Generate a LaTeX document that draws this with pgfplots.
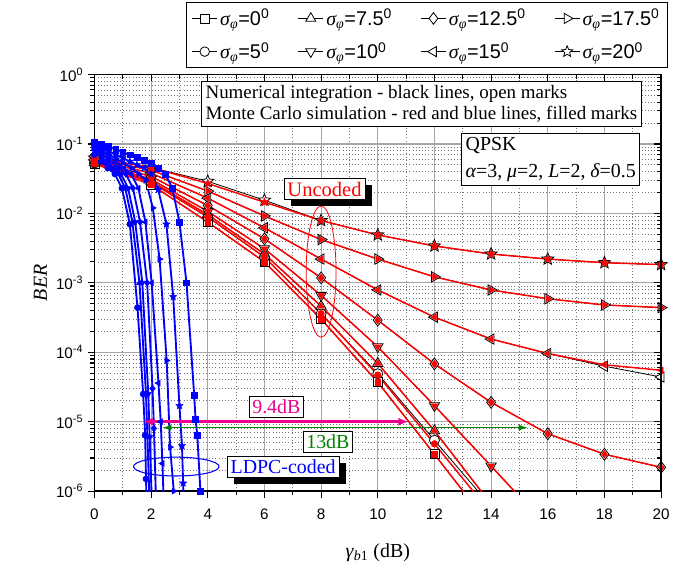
\documentclass[border=0pt]{standalone}
\usepackage{fontspec}
\setmainfont{Liberation Serif}
\setsansfont{Liberation Sans}
\usepackage{pgfplots}
\pgfplotsset{compat=1.18}
\usepackage{pgfplotstable}
\usetikzlibrary{arrows.meta,calc,shadows,plotmarks}

\newcommand{\sg}{{\rmfamily\itshape σ}\textsubscript{\rmfamily\itshape φ}}

\pgfdeclareplotmark{fivestar}{%
  \pgfpathmoveto{\pgfpointpolar{90}{\pgfplotmarksize}}%
  \pgfpathlineto{\pgfpointpolar{126}{0.45\pgfplotmarksize}}%
  \pgfpathlineto{\pgfpointpolar{162}{\pgfplotmarksize}}%
  \pgfpathlineto{\pgfpointpolar{198}{0.45\pgfplotmarksize}}%
  \pgfpathlineto{\pgfpointpolar{234}{\pgfplotmarksize}}%
  \pgfpathlineto{\pgfpointpolar{270}{0.45\pgfplotmarksize}}%
  \pgfpathlineto{\pgfpointpolar{306}{\pgfplotmarksize}}%
  \pgfpathlineto{\pgfpointpolar{342}{0.45\pgfplotmarksize}}%
  \pgfpathlineto{\pgfpointpolar{18}{\pgfplotmarksize}}%
  \pgfpathlineto{\pgfpointpolar{54}{0.45\pgfplotmarksize}}%
  \pgfpathclose
  \pgfusepathqfillstroke
}

\pgfplotstableread{
x num mc
0 5.2e-2 5.2e-2
2 2.6e-2 2.6e-2
4 7.5e-3 7.5e-3
6 2.0e-3 2.0e-3
8 3.0e-4 3.0e-4
10 3.7e-5 3.7e-5
12 3.4e-6 3.4e-6
14 3.0e-7 3.0e-7
}\tsq
\pgfplotstableread{
x num mc
0 5.3e-2 5.3e-2
2 2.8e-2 2.8e-2
4 8.9e-3 8.9e-3
6 2.35e-3 2.35e-3
8 3.6e-4 3.6e-4
10 4.9e-5 4.7e-5
12 5.4e-6 4.8e-6
14 6.0e-7 4.8e-7
}\tci
\pgfplotstableread{
x num mc
0 5.4e-2 5.4e-2
2 2.9e-2 2.9e-2
4 9.6e-3 9.6e-3
6 2.6e-3 2.6e-3
8 4.6e-4 4.6e-4
10 6.9e-5 6.9e-5
12 7.4e-6 7.4e-6
14 6.5e-7 6.5e-7
}\tup
\pgfplotstableread{
x num mc
0 5.5e-2 5.5e-2
2 3.1e-2 3.1e-2
4 1.07e-2 1.07e-2
6 3.1e-3 3.1e-3
8 6.6e-4 6.6e-4
10 1.2e-4 1.2e-4
12 1.7e-5 1.7e-5
14 2.3e-6 2.3e-6
16 3.0e-7 3.0e-7
}\tdn
\pgfplotstableread{
x num mc
0 5.7e-2 5.7e-2
2 3.4e-2 3.4e-2
4 1.3e-2 1.3e-2
6 4.3e-3 4.3e-3
8 1.18e-3 1.18e-3
10 2.9e-4 2.9e-4
12 6.8e-5 6.8e-5
14 1.9e-5 1.9e-5
16 6.7e-6 6.7e-6
18 3.4e-6 3.4e-6
20 2.2e-6 2.2e-6
}\tdi
\pgfplotstableread{
x num mc
0 5.9e-2 5.9e-2
2 3.8e-2 3.8e-2
4 1.66e-2 1.66e-2
6 6.2e-3 6.2e-3
8 2.2e-3 2.2e-3
10 7.9e-4 7.9e-4
12 3.2e-4 3.2e-4
14 1.55e-4 1.55e-4
16 9.6e-5 9.6e-5
18 6.3e-5 6.6e-5
20 4.4e-5 5.5e-5
}\tle
\pgfplotstableread{
x num mc
0 6.1e-2 6.1e-2
2 4.2e-2 4.2e-2
4 2.1e-2 2.1e-2
6 9.2e-3 9.2e-3
8 4.2e-3 4.2e-3
10 2.2e-3 2.2e-3
12 1.22e-3 1.22e-3
14 7.9e-4 7.9e-4
16 5.9e-4 5.9e-4
18 4.8e-4 4.8e-4
20 4.4e-4 4.4e-4
}\tri
\pgfplotstableread{
x num mc
0 6.3e-2 6.3e-2
2 4.6e-2 4.6e-2
4 2.9e-2 2.7e-2
6 1.55e-2 1.45e-2
8 7.9e-3 7.9e-3
10 4.9e-3 4.9e-3
12 3.4e-3 3.4e-3
14 2.6e-3 2.6e-3
16 2.2e-3 2.2e-3
18 1.95e-3 1.95e-3
20 1.83e-3 1.83e-3
}\tst

\pgfplotsset{
  num/.style={black, line width=0.6pt, mark options={solid, fill=white, draw=black, line width=0.6pt}},
  mc/.style={red, line width=1.1pt, mark options={solid, fill=red, draw=red, line width=0.4pt}},
  ldpc/.style={blue, line width=1.4pt, mark size=2.2pt, mark options={solid, fill=blue, draw=blue, line width=0.4pt}},
  msq/.style={mark=square*},
  mci/.style={mark=*},
  mup/.style={mark=triangle*},
  mdn/.style={mark=triangle*, every mark/.append style={rotate=180}},
  mdi/.style={mark=diamond*},
  mle/.style={mark=triangle*, every mark/.append style={rotate=90}},
  mri/.style={mark=triangle*, every mark/.append style={rotate=-90}},
  mst/.style={mark=fivestar},
}

\begin{document}
\begin{tikzpicture}
\begin{axis}[
  name=ax,
  scale only axis, width=427.5pt, height=314.25pt,
  xmin=0, xmax=20, ymin=1e-6, ymax=1, ymode=log,
  xtick={0,2,...,20}, xticklabels={0,2,4,6,8,10,12,14,16,18,20},
  minor x tick num=1,
  ytick={1e-6,1e-5,1e-4,1e-3,1e-2,1e-1,1},
  yticklabels={10\textsuperscript{-6},10\textsuperscript{-5},10\textsuperscript{-4},10\textsuperscript{-3},10\textsuperscript{-2},10\textsuperscript{-1},10\textsuperscript{0}},
  minor ytick={2e-6,3e-6,4e-6,5e-6,6e-6,7e-6,8e-6,9e-6,
               2e-5,3e-5,4e-5,5e-5,6e-5,7e-5,8e-5,9e-5,
               2e-4,3e-4,4e-4,5e-4,6e-4,7e-4,8e-4,9e-4,
               2e-3,3e-3,4e-3,5e-3,6e-3,7e-3,8e-3,9e-3,
               2e-2,3e-2,4e-2,5e-2,6e-2,7e-2,8e-2,9e-2,
               2e-1,3e-1,4e-1,5e-1,6e-1,7e-1,8e-1,9e-1},
  ticklabel style={font=\fontsize{11.5}{13}\sffamily},
  xticklabel style={yshift=-5pt},
  grid=both,
  major grid style={draw=black!35, line width=0.9pt},
  minor grid style={draw=black!55, dotted, line width=0.6pt},
  tick align=outside, xtick pos=bottom, ytick pos=left,
  major tick length=5pt, minor tick length=3pt,
  tick style={black, line width=0.8pt},
  axis line style={line width=1pt},
  xlabel={\textit{γ}\textsubscript{\textit{b}1} (dB)},
  ylabel={\textit{BER}},
  xlabel style={yshift=-11pt},
  label style={font=\fontsize{15}{17}\selectfont},
  legend columns=4,
  legend cell align=left,
  legend style={at={(1.012,1.174)}, anchor=north east, draw=black, line width=0.6pt,
    font=\fontsize{15}{18}\sffamily, inner xsep=4pt, inner ysep=3pt, row sep=7pt,
    /tikz/every even column/.append style={column sep=19.5pt}},
  legend image code/.code={\draw[mark repeat=2,mark phase=2] plot coordinates {(0cm,0cm) (0.33cm,0cm) (0.66cm,0cm)};},
]
% legend
\addlegendimage{num, msq, mark size=3.4pt}
\addlegendentry{\sg=0\textsuperscript{0}}
\addlegendimage{num, mup, mark size=4.4pt}
\addlegendentry{\sg=7.5\textsuperscript{0}}
\addlegendimage{num, mdi, mark size=4.4pt}
\addlegendentry{\sg=12.5\textsuperscript{0}}
\addlegendimage{num, mri, mark size=4.4pt}
\addlegendentry{\sg=17.5\textsuperscript{0}}
\addlegendimage{num, mci, mark size=3.6pt}
\addlegendentry{\sg=5\textsuperscript{0}}
\addlegendimage{num, mdn, mark size=4.4pt}
\addlegendentry{\sg=10\textsuperscript{0}}
\addlegendimage{num, mle, mark size=4.4pt}
\addlegendentry{\sg=15\textsuperscript{0}}
\addlegendimage{num, mst, mark size=4.4pt}
\addlegendentry{\sg=20\textsuperscript{0}}

% numerical (black, open marks)
\addplot[num, msq, mark size=3.4pt, forget plot] table[x=x,y=num] {\tsq};
\addplot[num, mci, mark size=3.8pt, forget plot] table[x=x,y=num] {\tci};
\addplot[num, mup, mark size=4.5pt, forget plot] table[x=x,y=num] {\tup};
\addplot[num, mdn, mark size=4.5pt, forget plot] table[x=x,y=num] {\tdn};
\addplot[num, mdi, mark size=4.5pt, forget plot] table[x=x,y=num] {\tdi};
\addplot[num, mle, mark size=4.5pt, forget plot] table[x=x,y=num] {\tle};
\addplot[num, mri, mark size=4.5pt, forget plot] table[x=x,y=num] {\tri};
\addplot[num, mst, mark size=4.8pt, forget plot] table[x=x,y=num] {\tst};
% Monte Carlo (red, filled marks)
\addplot[mc, msq, mark size=2.2pt, forget plot] table[x=x,y=mc] {\tsq};
\addplot[mc, mci, mark size=2.5pt, forget plot] table[x=x,y=mc] {\tci};
\addplot[mc, mup, mark size=2.9pt, forget plot] table[x=x,y=mc] {\tup};
\addplot[mc, mdn, mark size=2.9pt, forget plot] table[x=x,y=mc] {\tdn};
\addplot[mc, mdi, mark size=2.9pt, forget plot] table[x=x,y=mc] {\tdi};
\addplot[mc, mle, mark size=2.9pt, forget plot] table[x=x,y=mc] {\tle};
\addplot[mc, mri, mark size=2.9pt, forget plot] table[x=x,y=mc] {\tri};
\addplot[mc, mst, mark size=3.2pt, forget plot] table[x=x,y=mc] {\tst};

% LDPC-coded (blue)
\addplot[ldpc, msq, forget plot] coordinates {(0,0.105) (0.25,0.1) (0.5,0.092) (0.75,0.085) (1,0.076) (1.25,0.07) (1.5,0.064) (1.75,0.058) (2,0.053) (2.25,0.045) (2.5,0.037) (2.75,0.023) (3,7.5e-3) (3.25,1e-3) (3.52,2.4e-5) (3.57,1.07e-5) (3.63,6.4e-6) (3.74,1e-6) (3.8,3e-7)};
\addplot[ldpc, mst, mark size=2.8pt, forget plot] coordinates {(0,0.1) (0.25,0.089) (0.5,0.079) (0.75,0.071) (1,0.063) (1.25,0.056) (1.5,0.05) (1.75,0.045) (2,0.037) (2.25,0.022) (2.54,7e-3) (2.78,6.3e-4) (3,1.7e-5) (3.09,4.5e-6) (3.13,1.3e-6) (3.17,4e-7)};
\addplot[ldpc, mri, mark size=2.6pt, forget plot] coordinates {(0,0.095) (0.25,0.082) (0.5,0.071) (0.75,0.062) (1,0.054) (1.31,0.045) (1.56,0.037) (1.81,0.03) (2.06,1.2e-2) (2.3,2.2e-3) (2.55,7.6e-5) (2.67,4.3e-6) (2.8,1e-6) (2.85,5e-7)};
\addplot[ldpc, mle, mark size=2.6pt, forget plot] coordinates {(0,0.09) (0.25,0.077) (0.5,0.066) (0.75,0.056) (1.05,0.045) (1.3,0.037) (1.55,0.023) (1.8,7.5e-3) (2.02,1e-3) (2.26,3.6e-5) (2.34,1e-5) (2.4,2.5e-6) (2.44,8e-7)};
\addplot[ldpc, mdi, mark size=2.6pt, forget plot] coordinates {(0,0.085) (0.25,0.071) (0.5,0.059) (0.86,0.045) (1.11,0.037) (1.36,0.023) (1.61,7.5e-3) (1.86,1e-3) (2.05,3e-5) (2.1,8e-6) (2.17,8e-7)};
\addplot[ldpc, mdn, mark size=2.6pt, forget plot] coordinates {(0,0.08) (0.25,0.065) (0.5,0.053) (0.69,0.045) (0.94,0.037) (1.19,0.023) (1.44,7.5e-3) (1.69,1e-3) (1.9,2.5e-5) (1.95,6e-6) (2.02,8e-7)};
\addplot[ldpc, mup, mark size=2.6pt, forget plot] coordinates {(0,0.075) (0.25,0.06) (0.59,0.045) (0.84,0.037) (1.09,0.023) (1.34,7.5e-3) (1.59,1e-3) (1.82,2.5e-5) (1.87,6e-6) (1.94,8e-7)};
\addplot[ldpc, mci, mark size=2.3pt, forget plot] coordinates {(0,0.07) (0.25,0.056) (0.47,0.045) (0.72,0.037) (0.97,0.023) (1.25,7e-3) (1.52,4.4e-4) (1.72,2.5e-5) (1.79,6.4e-6) (1.82,1.5e-6) (1.85,5e-7)};

% annotations
\draw[red, line width=0.6pt] (rel axis cs:0.4,0.527) ellipse [x radius=11.25pt, y radius=49.5pt];
\draw[blue, line width=0.8pt] (rel axis cs:0.1444,0.0589) ellipse [x radius=32.25pt, y radius=7.1pt];
\draw[magenta, line width=1.8pt, {Latex[length=8pt,width=6pt]}-{Latex[length=8pt,width=6pt]}] (axis cs:1.7,1e-5) -- (axis cs:11.1,1e-5);
\draw[black!50!green, line width=0.9pt, {Latex[length=7pt,width=4.5pt]}-{Latex[length=7pt,width=4.5pt]}] (axis cs:2.39,8.2e-6) -- (axis cs:15.3,8.2e-6);

\node[draw=black, fill=white, line width=0.6pt, align=left, inner sep=3pt,
  font=\fontsize{14.3}{16.5}\selectfont] at (rel axis cs:0.577,0.9296)
  {Numerical integration - black lines, open marks\\Monte Carlo simulation - red and blue lines, filled marks};
\node[draw=black, fill=white, line width=0.6pt, align=left, inner sep=3pt, anchor=north east,
  font=\fontsize{15}{20}\selectfont] at (rel axis cs:0.963,0.859)
  {QPSK\\{\itshape α}=3, {\itshape μ}=2, {\itshape L}=2, {\itshape δ}=0.5};
\node[draw=black, fill=white, line width=0.6pt, text=red, inner sep=2.5pt,
  drop shadow={shadow xshift=5pt, shadow yshift=-5pt, fill=black, opacity=1},
  font=\fontsize{15.5}{17}\selectfont] at (rel axis cs:0.406,0.725) {Uncoded};
\node[draw=black, fill=white, line width=0.6pt, text=magenta, inner sep=2.5pt,
  font=\fontsize{15}{17}\selectfont] at (rel axis cs:0.321,0.203) {9.4dB};
\node[draw=black, fill=white, line width=0.6pt, text=black!50!green, inner sep=2.5pt,
  font=\fontsize{15}{17}\selectfont] at (rel axis cs:0.412,0.118) {13dB};
\node[draw=black, fill=white, line width=0.6pt, text=blue, inner sep=2.5pt,
  drop shadow={shadow xshift=5pt, shadow yshift=-5pt, fill=black, opacity=1},
  font=\fontsize{15}{17}\selectfont] at (rel axis cs:0.333,0.0585) {LDPC-coded};
\end{axis}
\begin{axis}[
  scale only axis, width=427.5pt, height=314.25pt,
  at={(ax.south west)}, anchor=south west,
  xmin=0, xmax=20, ymin=1e-6, ymax=1, ymode=log,
  axis x line*=top, axis y line*=right,
  xtick={0,2,...,20}, minor x tick num=1, xticklabels={},
  ytick={1e-6,1e-5,1e-4,1e-3,1e-2,1e-1,1}, yticklabels={},
  minor ytick={2e-6,3e-6,4e-6,5e-6,6e-6,7e-6,8e-6,9e-6,
               2e-5,3e-5,4e-5,5e-5,6e-5,7e-5,8e-5,9e-5,
               2e-4,3e-4,4e-4,5e-4,6e-4,7e-4,8e-4,9e-4,
               2e-3,3e-3,4e-3,5e-3,6e-3,7e-3,8e-3,9e-3,
               2e-2,3e-2,4e-2,5e-2,6e-2,7e-2,8e-2,9e-2,
               2e-1,3e-1,4e-1,5e-1,6e-1,7e-1,8e-1,9e-1},
  tick align=inside, major tick length=5pt, minor tick length=3pt,
  tick style={black, line width=0.8pt},
  axis line style={line width=1pt},
]
\end{axis}
\path ($(ax.south west)+(-71.25pt,-52.5pt)$) rectangle ($(ax.north east)+(6.75pt,56.25pt)$);
\end{tikzpicture}
\end{document}
